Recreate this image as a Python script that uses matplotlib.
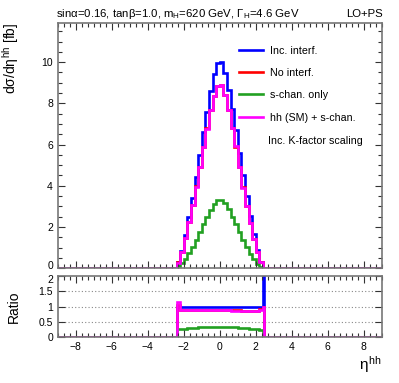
import numpy as np
import matplotlib
matplotlib.use("Agg")
import matplotlib.pyplot as plt
from matplotlib.ticker import MultipleLocator
import matplotlib.transforms as mtransforms

plt.rcParams['font.family'] = ['Liberation Sans', 'DejaVu Sans']
plt.rcParams['mathtext.fontset'] = 'custom'
plt.rcParams['mathtext.rm'] = 'Liberation Sans'
plt.rcParams['mathtext.it'] = 'Liberation Sans'

# ---------------- data ----------------
bin_width = 0.2
eta_lo, eta_hi = -9.0, 9.0
sig_lo = -2.4          # first non-empty bin edge

inc_interf = [0.30, 0.85, 1.60, 2.50, 3.40, 4.40, 5.50, 6.60, 7.60, 8.60, 9.40, 9.95,
              10.0, 9.45, 8.65, 7.70, 6.70, 5.60, 4.50, 3.50, 2.55, 1.65, 0.90, 0.32]
no_interf = [0.28, 0.77, 1.45, 2.26, 3.06, 3.97, 4.93, 5.90, 6.78, 7.66, 8.36, 8.85,
             8.90, 8.40, 7.67, 6.82, 5.90, 4.91, 3.92, 3.03, 2.20, 1.42, 0.78, 0.29]
s_chan = [0.08, 0.24, 0.46, 0.74, 1.03, 1.37, 1.74, 2.12, 2.47, 2.84, 3.13, 3.30,
          3.32, 3.14, 2.85, 2.50, 2.14, 1.75, 1.37, 1.02, 0.70, 0.43, 0.22, 0.07]
hh_sm_s = [0.27, 0.76, 1.44, 2.25, 3.05, 3.96, 4.92, 5.89, 6.77, 7.66, 8.37, 8.86,
           8.90, 8.41, 7.68, 6.82, 5.91, 4.90, 3.91, 3.02, 2.19, 1.42, 0.77, 0.28]

# ratio panel (relative to Inc. interf.), last entry is a narrow edge bin
ratio_edge_bin = 0.05
r_inc = [1.0] * 24 + [2.0]
r_noint = [1.05, 0.90, 0.90, 0.89, 0.89, 0.89, 0.89, 0.89, 0.89, 0.89, 0.89, 0.89,
           0.89, 0.89, 0.88, 0.88, 0.88, 0.88, 0.87, 0.87, 0.87, 0.86, 0.86, 0.92, 1.0]
r_schan = [0.27, 0.26, 0.28, 0.29, 0.30, 0.31, 0.32, 0.32, 0.33, 0.33, 0.33, 0.33,
           0.33, 0.33, 0.33, 0.32, 0.32, 0.31, 0.30, 0.29, 0.28, 0.27, 0.25, 0.22, 0.0]
r_hhsm = [1.15, 0.90, 0.89, 0.89, 0.89, 0.88, 0.88, 0.88, 0.88, 0.88, 0.88, 0.88,
          0.88, 0.88, 0.88, 0.87, 0.87, 0.87, 0.87, 0.86, 0.86, 0.86, 0.85, 0.90, 1.0]

labels = ["Inc. interf.", "No interf.", "s-chan. only", "hh (SM) + s-chan."]
colors = ["#0000ff", "#ff0000", "#22a022", "#ff00ff"]

# ---------------- figure ----------------
fig = plt.figure(figsize=(3.99, 3.83), dpi=100)
ax = fig.add_axes([0.145, 0.300, 0.812, 0.640])
axr = fig.add_axes([0.145, 0.120, 0.812, 0.159])

edges = np.round(np.arange(eta_lo, eta_hi + 1e-9, bin_width), 6)
i0 = int(round((sig_lo - eta_lo) / bin_width))

def full(vals):
    arr = np.zeros(len(edges) - 1)
    arr[i0:i0 + len(vals)] = vals
    return arr

for vals, lab, c in zip([inc_interf, no_interf, s_chan, hh_sm_s], labels, colors):
    ax.stairs(full(vals), edges, color=c, lw=1.9, label=lab, baseline=None)

ax.set_xlim(eta_lo, eta_hi)
ax.set_ylim(0, 11.9)

# ratio edges
inner = list(np.round(np.arange(sig_lo, -sig_lo + 1e-9, bin_width), 6))
r_edges = [eta_lo] + inner + [inner[-1] + ratio_edge_bin, eta_hi]
for vals, c in zip([r_inc, r_noint, r_schan, r_hhsm], colors):
    axr.stairs([0.0] + vals + [0.0], r_edges, color=c, lw=1.9, baseline=None)
axr.set_xlim(eta_lo, eta_hi)
axr.set_ylim(0, 2)
for yv in [0.5, 1.0, 1.5]:
    axr.axhline(yv, color="#888888", ls=(0, (1, 2)), lw=0.8, zorder=0)

# styling
for a in (ax, axr):
    for s in a.spines.values():
        s.set_color("#777777")
        s.set_linewidth(1.2)
    a.tick_params(which="both", direction="in", top=True, right=True,
                  colors="#333333", labelcolor="black", labelsize=7.5)
    a.tick_params(which="major", length=5, width=0.8)
    a.tick_params(which="minor", length=3, width=0.8)
    a.xaxis.set_major_locator(MultipleLocator(2))
    a.xaxis.set_minor_locator(MultipleLocator(2 / 6))

ax.tick_params(labelbottom=False)
ax.yaxis.set_major_locator(MultipleLocator(2))
ax.yaxis.set_minor_locator(MultipleLocator(0.5))
axr.set_yticks([0, 0.5, 1, 1.5, 2])
axr.set_yticklabels(["0", "0.5", "1", "1.5", "2"])
axr.tick_params(axis="y", which="minor", left=False, right=False)

# avoid the "0" / "2" labels at the panel junction colliding
fig.canvas.draw()
for lbl in ax.get_yticklabels():
    if lbl.get_text() == "0":
        lbl.set_transform(lbl.get_transform() + mtransforms.ScaledTranslation(0, 3 / 100, fig.dpi_scale_trans))
for lbl in axr.get_yticklabels():
    if lbl.get_text() == "2":
        lbl.set_transform(lbl.get_transform() + mtransforms.ScaledTranslation(0, -3 / 100, fig.dpi_scale_trans))

ax.set_ylabel(r"d$\sigma$/d$\eta^{\mathrm{hh}}$ [fb]", fontsize=10, loc="top")
ax.yaxis.set_label_coords(-0.115, 1.0)
axr.set_ylabel("Ratio", fontsize=10)
axr.yaxis.set_label_coords(-0.115, 0.5)
fig.text(0.955, 0.035, r"$\eta^{\mathrm{hh}}$", fontsize=11, ha="right", va="baseline")

fig.text(0.14, 0.955, r"sin$\alpha$=0.16, tan$\beta$=1.0, m$_{\mathrm{H}}$=620 GeV, $\Gamma_{\mathrm{H}}$=4.6 GeV",
         fontsize=8.2, ha="left", va="baseline")
fig.text(0.96, 0.955, "LO+PS", fontsize=8.2, ha="right", va="baseline")

leg = ax.legend(loc="upper left", bbox_to_anchor=(0.545, 0.925), frameon=False,
                fontsize=7.7, handlelength=2.3, handletextpad=0.6, labelspacing=1.15,
                borderaxespad=0)
fig.text(268 / 399, 1 - 144 / 383, "Inc. K-factor scaling", fontsize=7.7,
         ha="left", va="baseline")

fig.savefig("out.png", dpi=100)
